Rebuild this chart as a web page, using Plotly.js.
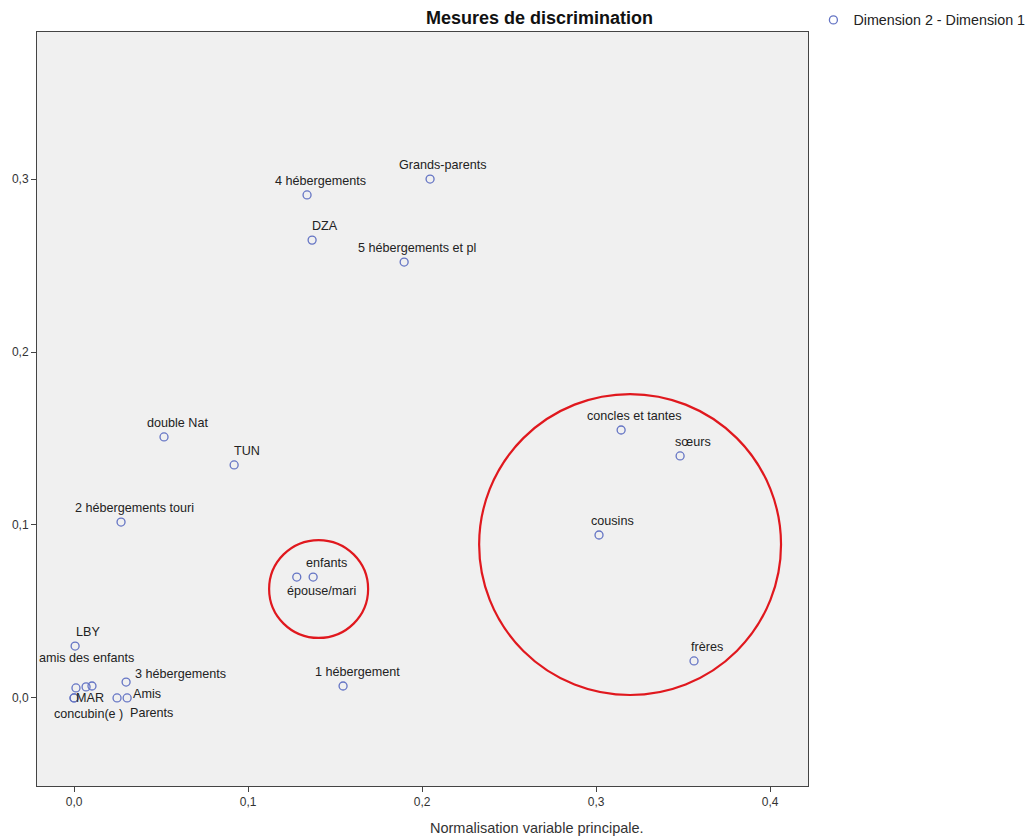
<!DOCTYPE html>
<html>
<head>
<meta charset="utf-8">
<script src="https://cdn.plot.ly/plotly-3.0.1.min.js"></script>
<style>html,body{margin:0;padding:0;background:#fff;}#chart{width:1032px;height:838px;}</style>
</head>
<body>
<div id="chart"></div>
<script>
// ---- data ----
const labels = ["Grands-parents","4 hébergements","DZA","5 hébergements et pl","double Nat","TUN",
  "2 hébergements touri","enfants","épouse/mari","concles et tantes","sœurs","cousins","frères",
  "1 hébergement","LBY","amis des enfants","","","3 hébergements","MAR","concubin(e )","Amis","Parents"];
const dimension1 = [0.2046,0.1339,0.1368,0.1897,0.0517,0.0920,
  0.0270,0.1374,0.1280,0.3144,0.3483,0.3017,0.3563,
  0.1546,0.0006,0.0011,0.0069,0.0103,0.0299,0.0000,0.0000,0.0305,0.0247];
const dimension2 = [0.3000,0.2908,0.2647,0.2520,0.1509,0.1347,
  0.1017,0.0699,0.0699,0.1549,0.1399,0.0942,0.0214,
  0.0069,0.0300,0.0058,0.0064,0.0069,0.0092,0.0000,0.0000,0.0000,0.0000];
const xTicks = [0, 0.1, 0.2, 0.3, 0.4];
const yTicks = [0, 0.1, 0.2, 0.3];
const seriesName = "Dimension 2 - Dimension 1";
// highlight circles drawn on the chart (data units)
const highlightCircles = [
  {x0:0.2328, x1:0.4063, y0:0.0017, y1:0.1757},
  {x0:0.1121, x1:0.1690, y0:0.0347, y1:0.0913}
];

// ---- label placement (pixel offsets) ----
const defaultShift = {x:13, y:14};
const specialShift = {
  "épouse/mari": {x:25, y:-14},
  "amis des enfants": {x:11, y:30},
  "3 hébergements": {x:54, y:8},
  "MAR": {x:16, y:0},
  "concubin(e )": {x:14, y:-16},
  "Amis": {x:20, y:4},
  "Parents": {x:34, y:-15},
  "1 hébergement": {x:14, y:14}
};

const font = "Liberation Sans, Arial, sans-serif";
const annotations = [];
labels.forEach((t,i)=>{
  if(!t) return;
  const s = specialShift[t] || defaultShift;
  annotations.push({x:dimension1[i], y:dimension2[i], xref:'x', yref:'y', text:t, showarrow:false,
    xshift:s.x, yshift:s.y, font:{family:font, size:12.6, color:'#222'}});
});
annotations.push({text:'<b>Mesures de discrimination</b>', xref:'paper', yref:'paper', x:0.652, y:1.0186,
  xanchor:'center', yanchor:'middle', showarrow:false, font:{family:font, size:18, color:'#111'}});
annotations.push({text:'Normalisation variable principale.', xref:'paper', yref:'paper', x:0.649, y:-0.056,
  xanchor:'center', yanchor:'middle', showarrow:false, font:{family:font, size:14.5, color:'#333'}});

const shapes = highlightCircles.map(c=>({type:'circle', xref:'x', yref:'y', x0:c.x0, x1:c.x1, y0:c.y0, y1:c.y1,
  line:{color:'#e0181e', width:2.2}}));

const trace = {
  type:'scatter', mode:'markers', x:dimension1, y:dimension2, name:seriesName,
  marker:{symbol:'circle-open', size:8, color:'#6474c4', line:{width:1.3}},
  hoverinfo:'text', text:labels, showlegend:true
};

const layout = {
  width:1032, height:838,
  margin:{l:37, r:224, t:32, b:52, autoexpand:false},
  paper_bgcolor:'#ffffff', plot_bgcolor:'#f0f0f0',
  separators:', ',
  font:{family:font, size:12, color:'#333'},
  showlegend:true,
  legend:{x:1.007, y:1.037, xanchor:'left', yanchor:'top', bgcolor:'rgba(0,0,0,0)',
    font:{family:font, size:14.3, color:'#222'}},
  xaxis:{range:[-0.0213, 0.4218], tickvals:xTicks, tickformat:'.1f', ticks:'outside', ticklen:5,
    tickcolor:'#444', showgrid:false, zeroline:false, showline:true, mirror:true, linecolor:'#444', linewidth:1,
    tickfont:{family:font, size:12, color:'#333'}},
  yaxis:{range:[-0.0509, 0.385], tickvals:yTicks, tickformat:'.1f', ticks:'outside', ticklen:5,
    tickcolor:'#444', showgrid:false, zeroline:false, showline:true, mirror:true, linecolor:'#444', linewidth:1,
    tickfont:{family:font, size:12, color:'#333'}},
  annotations:annotations,
  shapes:shapes
};

Plotly.newPlot('chart', [trace], layout, {displayModeBar:false, staticPlot:true});
</script>
</body>
</html>
